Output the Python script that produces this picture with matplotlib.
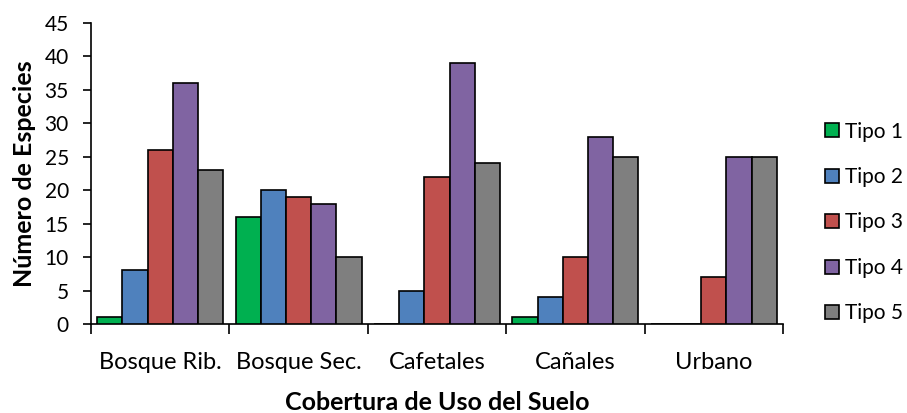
import matplotlib
matplotlib.use("Agg")
import matplotlib.pyplot as plt
import numpy as np
from matplotlib.patches import Patch

categories = ["Bosque Rib.", "Bosque Sec.", "Cafetales", "Cañales", "Urbano"]
series_names = ["Tipo 1", "Tipo 2", "Tipo 3", "Tipo 4", "Tipo 5"]
tipo1 = [1, 16, 0, 1, 0]
tipo2 = [8, 20, 5, 4, 0]
tipo3 = [26, 19, 22, 10, 7]
tipo4 = [36, 18, 39, 28, 25]
tipo5 = [23, 10, 24, 25, 25]
series = [tipo1, tipo2, tipo3, tipo4, tipo5]
colors = ["#00B050", "#4F81BD", "#C0504D", "#8064A2", "#7F7F7F"]
yticks = list(range(0, 50, 5))

plt.rcParams['font.family'] = ['Lato', 'DejaVu Sans']

fig = plt.figure(figsize=(9.07, 4.13), dpi=100)
ax = fig.add_axes([91/907, 1-324/413, (783-91)/907, (324-23)/413])

n = len(series)
group_w = 0.91
bw = group_w / n
centers = np.arange(len(categories)) + 0.5
for i, (vals, c) in enumerate(zip(series, colors)):
    x = centers - group_w/2 + bw*(i+0.5)
    ax.bar(x, vals, width=bw, color=c, edgecolor='black', linewidth=1.2, zorder=3)

ax.set_xlim(0, len(categories))
ax.set_ylim(0, 45)
ax.set_yticks(yticks)
ax.tick_params(axis='y', direction='out', length=6, width=1.2, labelsize=15, pad=10)
ax.set_xticks(np.arange(len(categories)+1))
ax.set_xticklabels([])
ax.set_xticks(centers, minor=True)
ax.tick_params(axis='x', which='major', direction='out', length=7, width=1.2)
ax.tick_params(axis='x', which='minor', length=0, pad=20)
ax.set_xticklabels(categories, minor=True, fontsize=17)
for s in ['top', 'right']:
    ax.spines[s].set_visible(False)
for s in ['left', 'bottom']:
    ax.spines[s].set_linewidth(1.2)

ax.set_ylabel("Número de Especies", fontsize=18, fontweight='bold', va='center')
ax.yaxis.set_label_coords((25-91)/692, 0.5)
ax.set_xlabel("Cobertura de Uso del Suelo", fontsize=18, fontweight='bold', va='center')
ax.xaxis.set_label_coords(0.5, (324-403)/301)

handles = [Patch(facecolor=c, edgecolor='black', linewidth=1.2) for c in colors]
fig.legend(handles, series_names, loc='center left', bbox_to_anchor=(825/907, 1-222.5/413),
           frameon=False, fontsize=15, handlelength=0.67, handleheight=0.67,
           handletextpad=0.3, labelspacing=1.22, borderpad=0, borderaxespad=0)

fig.savefig("out.png", dpi=100)
